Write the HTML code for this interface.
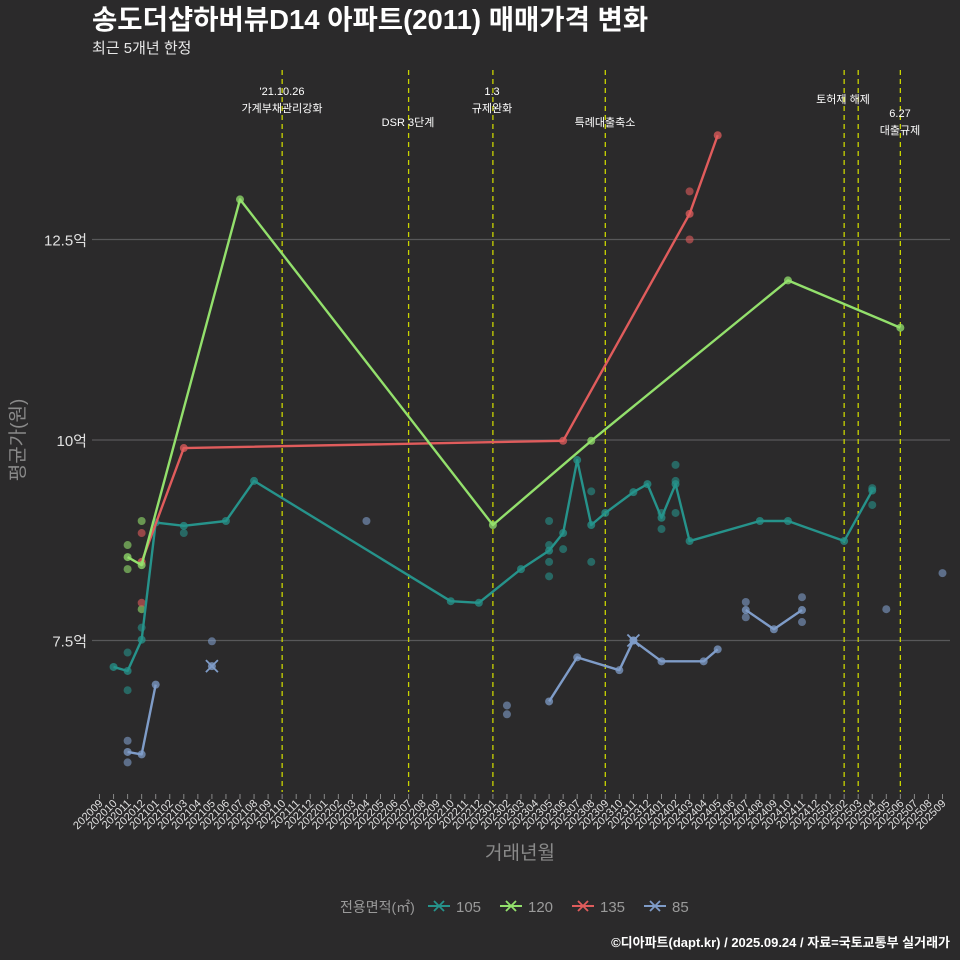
<!DOCTYPE html>
<html><head><meta charset="utf-8">
<style>
html,body{margin:0;padding:0;background:#2b2a2b;overflow:hidden;width:960px;height:960px;}
svg{display:block;}
svg text{font-family:"Liberation Sans","Noto Sans CJK KR",sans-serif;}
</style></head>
<body>
<svg id="chart" width="960" height="960" viewBox="0 0 960 960" xmlns="http://www.w3.org/2000/svg">
<rect width="960" height="960" fill="#2b2a2b"/>
<text x="92" y="29" fill="#ffffff" font-size="27.5" font-weight="bold">송도더샵하버뷰D14 아파트(2011) 매매가격 변화</text>
<text x="92" y="53" fill="#e8e8e8" font-size="15">최근 5개년 한정</text>
<g id="grid"></g>
<g id="vlines"></g>
<g id="series"></g>
<g id="xaxis"></g>
<text x="520" y="859" fill="#8a8a8a" font-size="19" text-anchor="middle">거래년월</text>
<text transform="translate(24,440) rotate(-90)" fill="#8a8a8a" font-size="19" text-anchor="middle">평균가(원)</text>
<g id="legend"></g>
<text x="950" y="947" fill="#ffffff" font-size="13" font-weight="bold" text-anchor="end">©디아파트(dapt.kr) / 2025.09.24 / 자료=국토교통부 실거래가</text>
</svg>
<script>
const months = [];
for (let y = 2020, m = 9; months.length < 61; ) { months.push(String(y) + String(m).padStart(2,'0')); m++; if (m > 12) { m = 1; y++; } }
const yTicks = [7.5, 10, 12.5];
const yTickLabels = ['7.5억', '10억', '12.5억'];
const policyMonths = ['202110','202207','202301','202309','202502','202503','202506'];
const policyLabels = [["'21.10.26","가계부채관리강화"],["DSR 3단계"],["1.3","규제완화"],["특례대출축소"],["토허제 해제"],[],["6.27","대출규제"]];
const seriesNames = ['105','120','135','85'];
const seriesColors = ['#26938b','#93e06c','#e05c5c','#7f9cc8'];
const line105 = [[1,7.17],[2,7.12],[3,7.51],[4,8.97],[6,8.93],[9,8.99],[11,9.49],[25,7.99],[27,7.97],[30,8.39],[32,8.62],[33,8.84],[34,9.75],[35,8.94],[36,9.09],[38,9.35],[39,9.45],[40,9.03],[41,9.45],[42,8.74],[47,8.99],[49,8.99],[53,8.74],[55,9.37]];
const line120 = [[2,8.54],[3,8.44],[10,13.0],[28,8.94],[35,9.99],[49,11.99],[57,11.40]];
const line135 = [[3,8.48],[6,9.90],[33,9.99],[42,12.82],[44,13.80]];
const line85a = [[2,6.11],[3,6.08],[4,6.95]];
const line85b = [[32,6.74],[34,7.29],[37,7.13],[38,7.50],[40,7.24],[43,7.24],[44,7.39]];
const line85c = [[46,7.88],[48,7.64],[50,7.88]];
const single85 = [[8,7.18],[38,7.50]];
const scatter105 = [[2,6.88],[2,7.35],[3,7.66],[6,8.84],[32,8.99],[32,8.69],[32,8.48],[32,8.30],[33,8.64],[35,9.36],[35,8.48],[40,9.09],[40,8.89],[41,9.69],[41,9.49],[41,9.09],[55,9.40],[55,9.19]];
const scatter120 = [[3,8.99],[2,8.69],[2,8.39],[3,7.89]];
const scatter135 = [[3,8.84],[3,7.97],[42,13.1],[42,12.5]];
const scatter85 = [[2,6.25],[2,5.98],[8,7.49],[19,8.99],[29,6.69],[29,6.58],[46,7.98],[46,7.79],[50,8.04],[50,7.73],[56,7.89],[60,8.34]];

const X0 = 99.5, XSTEP = 14.05, Y10 = 440, YPER = 80.2;
const xs = i => X0 + i * XSTEP;
const ys = v => Y10 - (v - 10) * YPER;
const NS = 'http://www.w3.org/2000/svg';
function mk(tag, attrs, parent) { const e = document.createElementNS(NS, tag); for (const k in attrs) e.setAttribute(k, attrs[k]); parent.appendChild(e); return e; }

const grid = document.getElementById('grid');
yTicks.forEach((t, i) => {
  const l = mk('line', {x1: 92, x2: 950, y1: ys(t), y2: ys(t), stroke: '#58585a', 'stroke-width': 1.2}, grid);
  
  
  const tx = mk('text', {x: 87, y: ys(t) + 6, fill: '#e0e0e0', 'font-size': 15, 'text-anchor': 'end'}, grid);
  tx.textContent = yTickLabels[i];
  
  
});

const vl = document.getElementById('vlines');
policyMonths.forEach((pm, i) => {
  const x = xs(months.indexOf(pm));
  const l = mk('line', {x1: x, x2: x, y1: 70, y2: 792, stroke: '#c9d400', 'stroke-width': 1.3, 'stroke-dasharray': '5,4'}, vl);
  
  
});
const annY = [[91,108],[122],[91,108],[122],[99],[],[113,130]];
const annX = [282, 408, 492, 605, 843, 0, 900];
policyLabels.forEach((lines, i) => {
  lines.forEach((s, j) => {
    const t = mk('text', {x: annX[i], y: annY[i][j] + 4, fill: '#ffffff', 'font-size': 11, 'text-anchor': 'middle'}, vl);
    t.textContent = s;
    
    
  });
});

const sg = document.getElementById('series');
function drawLine(data, color, name) {
  const p = mk('polyline', {points: data.map(d => xs(d[0]) + ',' + ys(d[1])).join(' '), fill: 'none', stroke: color, 'stroke-width': 2.4, 'stroke-linejoin': 'round'}, sg);
  
  
  data.forEach(d => {
    const c = mk('circle', {cx: xs(d[0]), cy: ys(d[1]), r: 4, fill: color, opacity: 0.75}, sg);
    
    
  });
}
function drawScatter(data, color) {
  data.forEach(d => {
    const c = mk('circle', {cx: xs(d[0]), cy: ys(d[1]), r: 4, fill: color, opacity: 0.6}, sg);
    
    
  });
}
drawScatter(scatter105, seriesColors[0]);
drawScatter(scatter120, seriesColors[1]);
drawScatter(scatter135, seriesColors[2]);
drawScatter(scatter85, seriesColors[3]);
drawLine(line105, seriesColors[0], 'line-105');
drawLine(line85a, seriesColors[3], 'line-85');
drawLine(line85b, seriesColors[3], 'line-85');
drawLine(line85c, seriesColors[3], 'line-85');
drawLine(line135, seriesColors[2], 'line-135');
drawLine(line120, seriesColors[1], 'line-120');
single85.forEach(d => {
  const x = xs(d[0]), y = ys(d[1]);
  const g = mk('path', {d: `M${x-6},${y-6}L${x+6},${y+6}M${x-6},${y+6}L${x+6},${y-6}`, stroke: seriesColors[3], 'stroke-width': 1.8}, sg);
  
  
  const c = mk('circle', {cx: x, cy: y, r: 4, fill: seriesColors[3], opacity: 0.8}, sg);
  
  
});

const xa = document.getElementById('xaxis');
months.forEach((m, i) => {
  const x = xs(i);
  const t = mk('line', {x1: x, x2: x, y1: 794, y2: 799, stroke: '#888', 'stroke-width': 1}, xa);
  
  
  const tx = mk('text', {x: x + 4, y: 804, fill: '#e0e0e0', 'font-size': 11, 'text-anchor': 'end', transform: `rotate(-45 ${x + 4} 804)`}, xa);
  tx.textContent = m;
  
  
});

const lg = document.getElementById('legend');
const lt = mk('text', {x: 340, y: 912, fill: '#9a9a9a', 'font-size': 14}, lg);
lt.textContent = '전용면적(㎡)';


const legX = [428, 500, 572, 644];
seriesNames.forEach((n, i) => {
  const x = legX[i], y = 906, c = seriesColors[i];
  const g = mk('g', {}, lg);
  
  
  mk('line', {x1: x, x2: x + 22, y1: y, y2: y, stroke: c, 'stroke-width': 2}, g);
  mk('path', {d: `M${x+6},${y-5}L${x+16},${y+5}M${x+6},${y+5}L${x+16},${y-5}`, stroke: c, 'stroke-width': 1.8}, g);
  const t = mk('text', {x: x + 28, y: y + 6, fill: '#9a9a9a', 'font-size': 15}, g);
  t.textContent = n;
});
</script>
</body></html>
